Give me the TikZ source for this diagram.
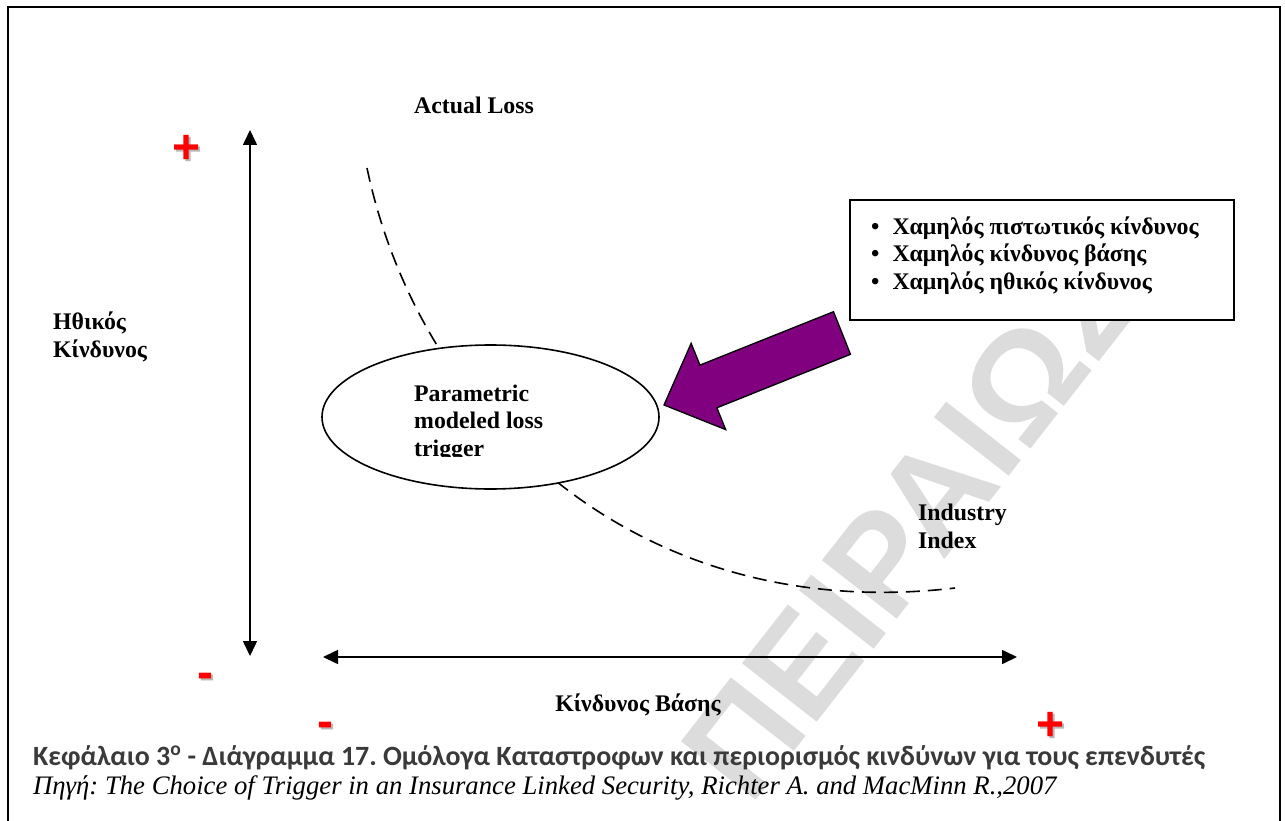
\documentclass[tikz,border=0pt]{standalone}
\usepackage{fontspec}
\setmainfont{Liberation Serif}
\newfontfamily\capfont{Carlito}
\newfontfamily\signfont{Liberation Sans}
\usetikzlibrary{arrows.meta,shapes.geometric}
\frenchspacing

\definecolor{arrowpurple}{RGB}{128,0,128}
\definecolor{captiongray}{RGB}{58,58,58}
\definecolor{markgray}{RGB}{220,220,220}
\definecolor{shadowgray}{RGB}{185,185,185}

\begin{document}
\begin{tikzpicture}[x=1pt,y=-1pt,
  lbl/.style={font=\fontsize{23.8}{27.5}\selectfont\bfseries, inner sep=0pt, align=left, anchor=base west},
  axisline/.style={line width=1.6pt, {Triangle[length=15pt,width=14pt]}-{Triangle[length=15pt,width=14pt]}},
  signtext/.style={font=\signfont\bfseries\fontsize{48}{48}\selectfont, inner sep=0pt, anchor=base, text=red},
  signshade/.style={signtext, text=shadowgray},
  trend/.style={line width=1.6pt, dash pattern=on 14pt off 8pt},
]
\useasboundingbox (0,0) rectangle (1285,821);
\fill[white] (0,0) rectangle (1285,821);

% faint diagonal watermark
\node[font=\signfont\bfseries\fontsize{138}{138}\selectfont, text=markgray,
      rotate=52, anchor=base west, inner sep=0pt] (mark) at (750,808) {ΠΕΙΡΑΙΩΣ};

% outer frame, open at the bottom
\draw[line width=2.2pt] (8,840) -- (8,7) -- (1280,7) -- (1280,840);

% axes
\coordinate (vTop) at (250,130);
\coordinate (vBot) at (250,656);
\coordinate (hLeft) at (323,657);
\coordinate (hRight) at (1017,657);
\draw[axisline] (vBot) -- (vTop);
\draw[axisline] (hLeft) -- (hRight);

% axis signs with a soft shadow
\node[signshade] (plusVs) at (189,165.8) {+};
\node[signtext]  (plusV)  at (187,163.8) {+};
\node[signshade] (minusVs) at (207,690.5) {-};
\node[signtext]  (minusV)  at (205,688.5) {-};
\node[signshade] (minusHs) at (327,739.5) {-};
\node[signtext]  (minusH)  at (325,737.5) {-};
\node[signshade] (plusHs) at (1053,742.8) {+};
\node[signtext]  (plusH)  at (1051,740.8) {+};

% dashed trade-off curve
\coordinate (cStart) at (367,168);
\coordinate (cEnd) at (955,588);
\draw[trend] (cStart) .. controls (420,420) and (640,625) .. (cEnd);

% trigger ellipse
\node[ellipse, draw, line width=1.6pt, fill=white, minimum width=337pt,
      minimum height=144pt, inner sep=0pt] (trig) at (490.5,417) {};
\begin{scope}
  \clip (330,360) rectangle (650,456);
  \node[lbl] (trigtext) at (414,456) {Parametric\\modeled loss\\trigger};
\end{scope}

% labels
\node[lbl] (actual) at (414,114) {Actual Loss};
\node[lbl] (moral) at (53,357) {Ηθικός\\Κίνδυνος};
\node[lbl] (industry) at (918,548) {Industry\\Index};
\node[lbl, anchor=base] (basis) at (638,711) {Κίνδυνος Βάσης};

% benefits box
\node[draw, fill=white, line width=1.5pt, minimum width=384pt, minimum height=120pt, inner sep=0pt]
  (benefits) at (1042,260) {};
\node[lbl] (benefitlist) at (871,289)
  {\textbullet\hspace{13pt}Χαμηλός πιστωτικός κίνδυνος\\
   \textbullet\hspace{13pt}Χαμηλός κίνδυνος βάσης\\
   \textbullet\hspace{13pt}Χαμηλός ηθικός κίνδυνος};

% block arrow pointing at the ellipse
\draw[fill=arrowpurple, line width=1.3pt, line join=miter]
  (664,405) -- (691.15,343.3) -- (699.9,365.1) -- (833.5,311.7) -- (850.5,354.3)
  -- (716.9,407.8) -- (725.65,429.6) -- cycle;

% caption and source
\node[font=\capfont\bfseries\fontsize{27.9}{32}\selectfont, text=captiongray, inner sep=0pt, anchor=base west]
  (caption) at (33,765) {Κεφάλαιο 3\textsuperscript{ο} - Διάγραμμα 17. Ομόλογα Καταστροφων και περιορισμός κινδύνων για τους επενδυτές};
\node[font=\itshape\fontsize{26.7}{30}\selectfont, inner sep=0pt, anchor=base west]
  (source) at (33,794) {Πηγή: The Choice of Trigger in an Insurance Linked Security, Richter A. and MacMinn R.,2007};
\end{tikzpicture}
\end{document}
